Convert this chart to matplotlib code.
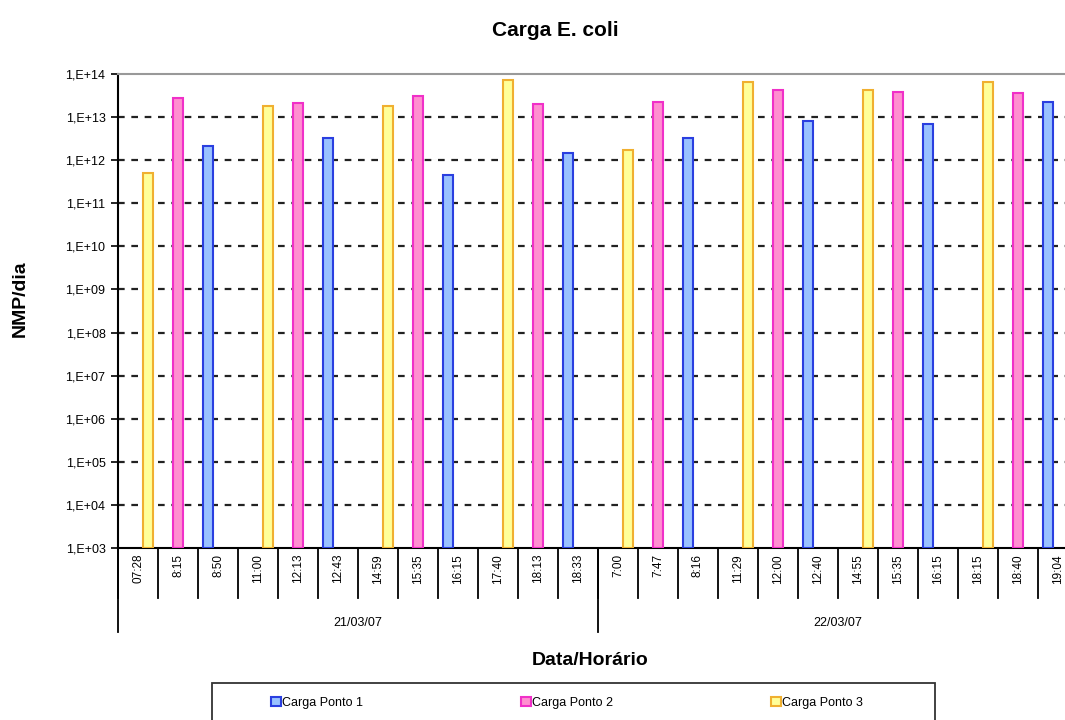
import numpy as np
import matplotlib
matplotlib.use("Agg")
import matplotlib.pyplot as plt
import matplotlib.transforms as mtransforms
from matplotlib.patches import Rectangle

plt.rcParams['font.family'] = ['Liberation Sans', 'DejaVu Sans']

# horários de coleta (dois dias)
horarios = ["07:28", "8:15", "8:50", "11:00", "12:13", "12:43",
            "14:59", "15:35", "16:15", "17:40", "18:13", "18:33",
            "7:00", "7:47", "8:16", "11:29", "12:00", "12:40",
            "14:55", "15:35", "16:15", "18:15", "18:40", "19:04"]
dias = ["21/03/07", "22/03/07"]

# cargas NMP/dia (None = sem coleta nesse ponto)
ponto1 = [None, None, 2.1e12, None, None, 3.3e12,
          None, None, 4.6e11, None, None, 1.5e12,
          None, None, 3.3e12, None, None, 8.0e12,
          None, None, 6.9e12, None, None, 2.3e13]
ponto2 = [None, 2.8e13, None, None, 2.1e13, None,
          None, 3.1e13, None, None, 2.0e13, None,
          None, 2.3e13, None, None, 4.2e13, None,
          None, 3.9e13, None, None, 3.6e13, None]
ponto3 = [5.0e11, None, None, 1.8e13, None, None,
          1.8e13, None, None, 7.2e13, None, None,
          1.7e12, None, None, 6.6e13, None, None,
          4.2e13, None, None, 6.6e13, None, None]

series = [("Carga Ponto 1", ponto1, "#99c2ff", "#2a3fe0"),
          ("Carga Ponto 2", ponto2, "#ff8fd0", "#f030c8"),
          ("Carga Ponto 3", ponto3, "#ffff99", "#f0b030")]

fig = plt.figure(figsize=(10.65, 7.2), dpi=100)
ax = fig.add_axes([0.1108, 0.2389, 0.9014, 0.6583])

x = np.arange(len(horarios))
w = 0.25
base = 1e3
handles = []
for k, (nome, vals, fc, ec) in enumerate(series):
    v = np.array([np.nan if a is None else a for a in vals], dtype=float)
    h = ax.bar(x + (k - 1) * w, v - base, width=w, bottom=base, color=fc,
               edgecolor=ec, linewidth=1.5, label=nome, zorder=3)
    handles.append(h)

ax.set_yscale('log')
ax.set_ylim(1e3, 1e14)
ax.set_xlim(-0.5, len(horarios) - 0.5)
yt = [10.0 ** p for p in range(3, 15)]
ax.set_yticks(yt)
ax.set_yticklabels([f"1,E+{p:02d}" for p in range(3, 15)], fontsize=9)
ax.yaxis.set_minor_locator(matplotlib.ticker.NullLocator())
ax.tick_params(axis='y', direction='out', length=5, width=1.2, pad=4)
for p in range(4, 14):
    ax.axhline(10.0 ** p, color='#222222', linestyle=(0, (3, 3)), linewidth=1.6, zorder=1)

ax.spines['top'].set_color('#999999')
ax.spines['top'].set_linewidth(1.5)
ax.spines['right'].set_visible(False)
ax.spines['left'].set_linewidth(1.5)
ax.spines['bottom'].set_linewidth(1.5)

# eixo x em dois níveis
ax.set_xticks([])
trans = mtransforms.blended_transform_factory(ax.transData, ax.transAxes)
h_ax = 474.0
for i in range(len(horarios) + 1):
    ax.plot([i - 0.5, i - 0.5], [0, -50 / h_ax], transform=trans, color='black',
            linewidth=1.3, clip_on=False)
for i, lab in enumerate(horarios):
    ax.text(i, -6 / h_ax, lab, transform=trans, rotation=90, ha='center', va='top',
            fontsize=8.5)
for d, dia in enumerate(dias):
    ax.text(d * 12 + 5.5, -75 / h_ax, dia, transform=trans, ha='center', va='center',
            fontsize=9)
for i in [0, 12, 24]:
    ax.plot([i - 0.5, i - 0.5], [0, -84 / h_ax], transform=trans, color='black',
            linewidth=1.3, clip_on=False)

fig.text(0.521, 0.958, "Carga E. coli", ha='center', va='center', fontsize=15,
         fontweight='bold')
fig.text(0.019, 0.585, "NMP/dia", ha='center', va='center', rotation=90,
         fontsize=14, fontweight='bold')
fig.text(0.554, 0.083, "Data/Horário", ha='center', va='center', fontsize=14,
         fontweight='bold')

# caixa da legenda
fig.patches.append(Rectangle((0.199, -0.05), 0.679, 0.1014, transform=fig.transFigure,
                             fill=False, edgecolor='#333333', linewidth=1.3))
leg = fig.legend(handles=handles, loc='center left', ncol=3,
                 bbox_to_anchor=(0.250, 0.024), frameon=False, fontsize=9,
                 handlelength=0.8, handleheight=0.8, handletextpad=0.1,
                 borderaxespad=0, columnspacing=12.6)

fig.savefig("out.png", dpi=100)
